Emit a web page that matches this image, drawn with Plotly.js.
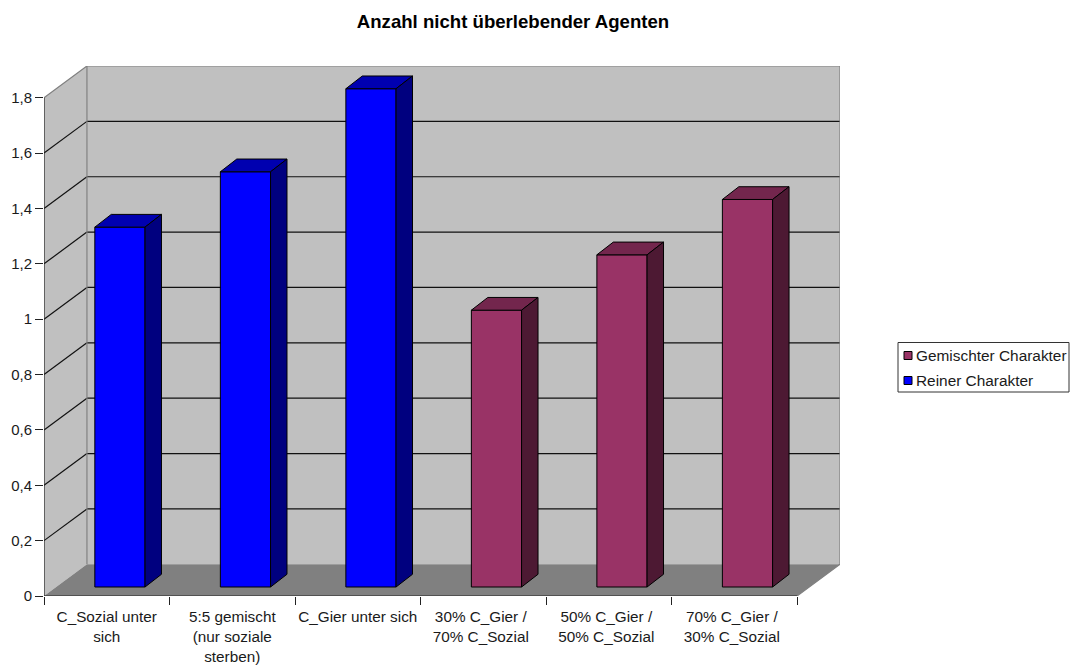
<!DOCTYPE html>
<html lang="de">
<head>
<meta charset="utf-8">
<title>Anzahl nicht überlebender Agenten</title>
<script src="https://cdn.plot.ly/plotly-3.0.1.min.js"></script>
<style>html,body{margin:0;padding:0;background:#fff}#chart{width:1071px;height:669px}</style>
</head>
<body>
<div id="chart"></div>
<script>
// Category labels along the front edge
const categoryLabels = [
  'C_Sozial unter<br>sich',
  '5:5 gemischt<br>(nur soziale<br>sterben)',
  'C_Gier unter sich',
  '30% C_Gier /<br>70% C_Sozial',
  '50% C_Gier /<br>50% C_Sozial',
  '70% C_Gier /<br>30% C_Sozial'
];
const labelCentres = [0.5, 1.5, 2.5, 3.48, 4.48, 5.48];
// Series values
const pureName = 'Reiner Charakter';
const pureSlots = [0, 1, 2];
const pureValues = [1.3, 1.5, 1.8];
const mixedName = 'Gemischter Charakter';
const mixedSlots = [3, 4, 5];
const mixedValues = [1.0, 1.2, 1.4];
// Value axis
const yTicks = [0, 0.2, 0.4, 0.6, 0.8, 1, 1.2, 1.4, 1.6, 1.8];
const yTickLabels = ['0', '0,2', '0,4', '0,6', '0,8', '1', '1,2', '1,4', '1,6', '1,8'];

// Perspective parameters in axis units
const WALL_DX = 0.342, WALL_DY = 0.1146;   // depth of the chart box
const BAR_DX = 0.131, BAR_DY = 0.046;      // depth of a column
const BAR_SHIFT = 0.405, BAR_W = 0.4;      // column position inside a category
const BAR_BASE = 0.0325;                   // columns stand slightly inside the floor
const N = categoryLabels.length;
const yMax = yTicks[yTicks.length - 1];
const TOP = yMax + WALL_DY;
const RIGHT = N + WALL_DX;

const FONT = '"Liberation Sans", Arial, sans-serif';
const TXT = '#1a1a1a';

function poly(points, fill) {
  const d = points.map((p, i) => (i ? 'L' : 'M') + p[0] + ',' + p[1]).join(' ') + ' Z';
  return {type: 'path', path: d, xref: 'x', yref: 'y', fillcolor: fill, line: {width: 0}, layer: 'below'};
}
function seg(x0, y0, x1, y1, color) {
  return {type: 'line', xref: 'x', yref: 'y', x0, y0, x1, y1, line: {color, width: 1.2}, layer: 'below'};
}

// Walls, floor and gridlines of the box
const shapes = [
  poly([[0, 0], [WALL_DX, WALL_DY], [WALL_DX, TOP], [0, yMax]], '#C0C0C0'),
  poly([[WALL_DX, WALL_DY], [RIGHT, WALL_DY], [RIGHT, TOP], [WALL_DX, TOP]], '#C0C0C0'),
  poly([[0, 0], [N, 0], [RIGHT, WALL_DY], [WALL_DX, WALL_DY]], '#808080')
];
yTicks.slice(1, -1).forEach(v => {
  shapes.push(seg(0, v, WALL_DX, v + WALL_DY, '#111'));
  shapes.push(seg(WALL_DX, v + WALL_DY, RIGHT, v + WALL_DY, '#111'));
});
shapes.push(seg(WALL_DX, WALL_DY, WALL_DX, TOP, '#808080'));

// Box outline, kept as unclipped traces so the edges stay fully visible
function edge(xs, ys, color) {
  return {type: 'scatter', mode: 'lines', x: xs, y: ys, cliponaxis: false, showlegend: false,
          hoverinfo: 'skip', line: {color, width: 1.2}};
}
const edges = [
  edge([0, WALL_DX, RIGHT, RIGHT, N], [yMax, TOP, TOP, WALL_DY, 0], '#808080'),
  edge([N, 0, 0], [0, 0, yMax], '#222')
];

// Front faces come from bar traces; top and side faces are derived from the same values
function faces(slots, values, topColor, sideColor) {
  const top = {x: [], y: []}, side = {x: [], y: []};
  slots.forEach((s, i) => {
    const l = s + BAR_SHIFT, r = l + BAR_W, b = BAR_BASE, t = BAR_BASE + values[i];
    top.x.push(l, l + BAR_DX, r + BAR_DX, r, l, null);
    top.y.push(t, t + BAR_DY, t + BAR_DY, t, t, null);
    side.x.push(r, r + BAR_DX, r + BAR_DX, r, r, null);
    side.y.push(b, b + BAR_DY, t + BAR_DY, t, b, null);
  });
  const mk = (g, c) => ({type: 'scatter', mode: 'lines', x: g.x, y: g.y, fill: 'toself', fillcolor: c,
    line: {color: '#000', width: 1}, showlegend: false, hoverinfo: 'skip', cliponaxis: false});
  return [mk(top, topColor), mk(side, sideColor)];
}
function columns(name, slots, values, color) {
  return {type: 'bar', name, x: slots.map(s => s + BAR_SHIFT + BAR_W / 2), y: values,
    base: values.map(() => BAR_BASE), width: BAR_W, showlegend: false,
    marker: {color, line: {color: '#000', width: 1}}};
}

const data = [
  ...edges,
  columns(pureName, pureSlots, pureValues, '#0000FF'),
  columns(mixedName, mixedSlots, mixedValues, '#993366'),
  ...faces(pureSlots, pureValues, '#0000B0', '#00007F'),
  ...faces(mixedSlots, mixedValues, '#73264D', '#4D1933')
];

// Legend box on the right; paper coordinates span the plot area, so pixels are converted
const MARGIN = {l: 44, r: 231, t: 66, b: 73};
const PLOT_W = 1071 - MARGIN.l - MARGIN.r, PLOT_H = 669 - MARGIN.t - MARGIN.b;
const px = x => (x - MARGIN.l) / PLOT_W, py = y => 1 - (y - MARGIN.t) / PLOT_H;
const legendEntries = [[mixedName, '#993366'], [pureName, '#0000FF']];
shapes.push({type: 'rect', xref: 'paper', yref: 'paper', x0: px(898), x1: px(1069),
  y0: py(392), y1: py(342.5), fillcolor: '#fff', line: {color: '#333', width: 1}});
const annotations = [];
legendEntries.forEach((e, i) => {
  const cy = 355.5 + i * 25;
  shapes.push({type: 'rect', xref: 'paper', yref: 'paper', x0: px(904), x1: px(912),
    y0: py(cy + 4), y1: py(cy - 4), fillcolor: e[1], line: {color: '#000', width: 1}});
  annotations.push({xref: 'paper', yref: 'paper', x: px(914.5), y: py(cy), xanchor: 'left', yanchor: 'middle',
    text: e[0], showarrow: false, font: {family: FONT, size: 15.4, color: TXT}});
});

const layout = {
  width: 1071, height: 669,
  paper_bgcolor: '#fff', plot_bgcolor: 'rgba(0,0,0,0)',
  margin: {...MARGIN, pad: 0},
  title: {text: '<b>Anzahl nicht überlebender Agenten</b>', x: 513 / 1071, xanchor: 'center',
          y: 1 - 21 / 669, yanchor: 'middle', font: {family: FONT, size: 18.6, color: '#000'}},
  barmode: 'overlay',
  showlegend: false,
  xaxis: {
    range: [0, RIGHT], showgrid: false, zeroline: false, showline: false,
    tickmode: 'array', tickvals: labelCentres, ticktext: categoryLabels,
    ticks: 'outside', ticklen: 7, tickcolor: 'rgba(0,0,0,0)', tickangle: 0,
    tickfont: {family: FONT, size: 15.3, color: TXT},
    minor: {tickmode: 'array', tickvals: Array.from({length: N + 1}, (_, i) => i),
            ticks: 'outside', ticklen: 8, tickcolor: '#222', tickwidth: 1.2, showgrid: false}
  },
  yaxis: {
    range: [0, TOP], showgrid: false, zeroline: false, showline: false,
    tickmode: 'array', tickvals: yTicks, ticktext: yTickLabels,
    ticks: 'outside', ticklen: 8, tickcolor: '#222', tickwidth: 1.2,
    tickfont: {family: FONT, size: 15, color: TXT}
  },
  shapes, annotations
};
Plotly.newPlot('chart', data, layout, {displayModeBar: false, responsive: false});
</script>
</body>
</html>
